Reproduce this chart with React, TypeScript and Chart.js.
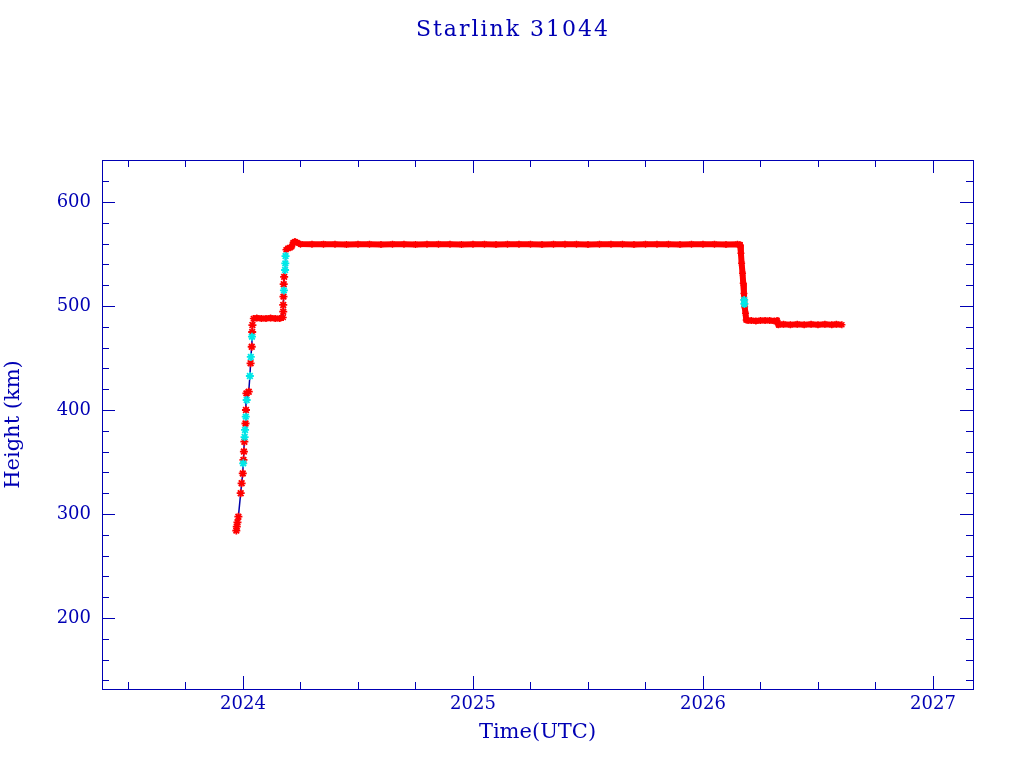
import { useEffect, useRef } from 'react';
import { Chart, registerables } from 'chart.js';

Chart.register(...registerables);

const titleText = 'Starlink 31044';
const xAxisTitle = 'Time(UTC)';
const yAxisTitle = 'Height (km)';
const xTickValues = [2024, 2025, 2026, 2027];
const yTickValues = [200, 300, 400, 500, 600];
const xRange = [2023.387, 2027.174];
const yRange = [131.7, 640.4];

// ascent markers (red)
const ascentRedTimes = [2023.971, 2023.973, 2023.976, 2023.980, 2023.990, 2023.994, 2023.999, 2024.002, 2024.004, 2024.006, 2024.011, 2024.013, 2024.015, 2024.025, 2024.033, 2024.038, 2024.040, 2024.041];
const ascentRedHeights = [284, 287.8, 292, 297.4, 320, 329.5, 339, 352, 360, 369.5, 387, 400, 416, 417.6, 444.9, 460.8, 475, 481.7];
// ascent markers (cyan)
const ascentCyanTimes = [2024.001, 2024.007, 2024.009, 2024.012, 2024.016, 2024.030, 2024.034, 2024.039];
const ascentCyanHeights = [348.7, 374, 380.8, 393.6, 409.6, 432.7, 451, 470.5];

// second ascent (red / cyan)
const raiseRedTimes = [2024.175, 2024.175, 2024.176, 2024.177, 2024.179];
const raiseRedHeights = [494.5, 501, 509, 521, 528];
const raiseCyanTimes = [2024.178, 2024.183, 2024.184, 2024.185];
const raiseCyanHeights = [515, 534.6, 541, 548];

// first shelf
const shelfTimes = [2024.045, 2024.06, 2024.08, 2024.10, 2024.12, 2024.14, 2024.16, 2024.175];
const shelfHeights = [488, 488.5, 488, 488, 488.5, 488, 488, 489];

// operational altitude, descent and final shelf
const cruiseTimes = [2024.187, 2024.195, 2024.205, 2024.212, 2024.218, 2024.226, 2024.235, 2024.25, 2024.30, 2024.35, 2024.40, 2024.45, 2024.50, 2024.55, 2024.60, 2024.65, 2024.70, 2024.75, 2024.80, 2024.85, 2024.90, 2024.95, 2025.00, 2025.05, 2025.10, 2025.15, 2025.20, 2025.25, 2025.30, 2025.35, 2025.40, 2025.45, 2025.50, 2025.55, 2025.60, 2025.65, 2025.70, 2025.75, 2025.80, 2025.85, 2025.90, 2025.95, 2026.00, 2026.05, 2026.10, 2026.15, 2026.161, 2026.165, 2026.168, 2026.172, 2026.175, 2026.178, 2026.181, 2026.185, 2026.188, 2026.196, 2026.21, 2026.23, 2026.25, 2026.27, 2026.29, 2026.31, 2026.322, 2026.328, 2026.35, 2026.38, 2026.41, 2026.44, 2026.47, 2026.50, 2026.53, 2026.56, 2026.58, 2026.604];
const cruiseHeights = [554, 555.5, 556, 557, 561, 562, 561, 559.5, 559.3, 559.5, 559.3, 559.2, 559.4, 559.3, 559.2, 559.4, 559.3, 559.2, 559.3, 559.4, 559.3, 559.2, 559.3, 559.4, 559.2, 559.3, 559.4, 559.3, 559.2, 559.3, 559.4, 559.3, 559.2, 559.3, 559.4, 559.3, 559.2, 559.3, 559.4, 559.3, 559.2, 559.3, 559.4, 559.3, 559.2, 559.3, 559, 550.7, 541, 531.4, 521.8, 512, 499.3, 493, 486.5, 486, 486, 485.5, 486, 486, 486, 485.5, 486, 482, 482.5, 482, 482.5, 482, 482.5, 482, 482.5, 482, 482.5, 482];
const descentCyanTimes = [2026.179, 2026.180];
const descentCyanHeights = [505.8, 502];

const ink = '#0000b4';
const lineBlue = '#0000aa';
const red = '#ff0000';
const cyan = '#00e8e8';
const serif = '"DejaVu Serif", "Liberation Serif", serif';

const pts = (xs: number[], ys: number[]) => xs.map((x, i) => ({ x, y: ys[i] }));

const framePlugin = {
  id: 'frame',
  afterDatasetsDraw(chart: any) {
    const { ctx, chartArea: a, scales } = chart;
    const xs = scales.x;
    const ys = scales.y;
    ctx.save();
    ctx.strokeStyle = ink;
    ctx.lineWidth = 1;
    ctx.strokeRect(a.left + 0.5, a.top + 0.5, a.right - a.left, a.bottom - a.top);
    ctx.beginPath();
    const start = Math.ceil(xRange[0] / 0.25) * 0.25;
    for (let v = start; v <= xRange[1] + 1e-9; v += 0.25) {
      const major = Math.abs(v - Math.round(v)) < 1e-6;
      const len = major ? 13 : 7;
      const p = Math.round(xs.getPixelForValue(v)) + 0.5;
      ctx.moveTo(p, a.bottom);
      ctx.lineTo(p, a.bottom - len);
      ctx.moveTo(p, a.top);
      ctx.lineTo(p, a.top + len);
    }
    const ystart = Math.ceil(yRange[0] / 20) * 20;
    for (let v = ystart; v <= yRange[1] + 1e-9; v += 20) {
      const major = v % 100 === 0;
      const len = major ? 13 : 7;
      const p = Math.round(ys.getPixelForValue(v)) + 0.5;
      ctx.moveTo(a.left, p);
      ctx.lineTo(a.left + len, p);
      ctx.moveTo(a.right, p);
      ctx.lineTo(a.right - len, p);
    }
    ctx.stroke();
    ctx.fillStyle = ink;
    ctx.font = `22px ${serif}`;
    (ctx as any).letterSpacing = '2px';
    ctx.textAlign = 'center';
    ctx.textBaseline = 'middle';
    ctx.fillText(titleText, 513, 30);
    ctx.restore();
  },
};

export default function App() {
  const ref = useRef<HTMLCanvasElement | null>(null);
  useEffect(() => {
    if (!ref.current) return;
    const blueAll = [
      ...pts(ascentRedTimes, ascentRedHeights),
      ...pts(ascentCyanTimes, ascentCyanHeights),
      ...pts(raiseRedTimes, raiseRedHeights),
      ...pts(raiseCyanTimes, raiseCyanHeights),
      ...pts(shelfTimes, shelfHeights),
      ...pts(cruiseTimes, cruiseHeights),
      ...pts(descentCyanTimes, descentCyanHeights),
    ].sort((a, b) => a.x - b.x);
    const chart = new Chart(ref.current, {
      type: 'scatter',
      data: {
        datasets: [
          { data: blueAll, showLine: true, borderColor: lineBlue, borderWidth: 1.5, pointRadius: 0, order: 5 },
          { data: pts(shelfTimes, shelfHeights), showLine: true, borderColor: red, borderWidth: 6, pointStyle: 'star', pointRadius: 3.5, borderCapStyle: 'butt', pointBorderColor: red, pointBackgroundColor: red, pointBorderWidth: 1.5, order: 3 },
          { data: pts(cruiseTimes, cruiseHeights), showLine: true, borderColor: red, borderWidth: 6, pointStyle: 'star', pointRadius: 3.5, pointBorderColor: red, pointBackgroundColor: red, pointBorderWidth: 1.5, order: 3 },
          { data: [...pts(ascentRedTimes, ascentRedHeights), ...pts(raiseRedTimes, raiseRedHeights)], showLine: false, pointStyle: 'star', pointRadius: 4, borderColor: red, backgroundColor: red, borderWidth: 1.8, order: 2 },
          { data: [...pts(ascentCyanTimes, ascentCyanHeights), ...pts(raiseCyanTimes, raiseCyanHeights), ...pts(descentCyanTimes, descentCyanHeights)], showLine: false, pointStyle: 'star', pointRadius: 4, borderColor: cyan, backgroundColor: cyan, borderWidth: 1.8, order: 1 },
        ],
      },
      options: {
        animation: false,
        responsive: false,
        devicePixelRatio: 1,
        layout: { padding: { left: 0, right: 51, top: 160, bottom: 0 } },
        plugins: { legend: { display: false }, tooltip: { enabled: false } },
        scales: {
          x: {
            type: 'linear',
            min: xRange[0],
            max: xRange[1],
            position: 'bottom',
            afterBuildTicks: (s: any) => { s.ticks = xTickValues.map((v) => ({ value: v })); },
            afterFit: (s: any) => { s.height = 79; },
            grid: { display: false, drawTicks: false },
            border: { display: false },
            ticks: { color: ink, font: { family: serif, size: 18 }, padding: 5, maxRotation: 0, autoSkip: false, callback: (v: any) => String(v) },
            title: { display: true, text: xAxisTitle, color: ink, font: { family: serif, size: 21 }, padding: { top: 0, bottom: 23 } },
          },
          y: {
            type: 'linear',
            min: yRange[0],
            max: yRange[1],
            position: 'left',
            afterBuildTicks: (s: any) => { s.ticks = yTickValues.map((v) => ({ value: v })); },
            afterFit: (s: any) => { s.width = 102; },
            grid: { display: false, drawTicks: false },
            border: { display: false },
            ticks: { color: ink, font: { family: serif, size: 18 }, padding: 11, autoSkip: false, callback: (v: any) => String(v) },
            title: { display: true, text: yAxisTitle, color: ink, font: { family: serif, size: 21 }, padding: { top: 1, bottom: 0 } },
          },
        },
      },
      plugins: [framePlugin],
    } as any);
    return () => chart.destroy();
  }, []);
  return (
    <div style={{ position: 'absolute', left: 0, top: 0, width: 1024, height: 768, background: '#fff' }}>
      <canvas ref={ref} width={1024} height={768} style={{ width: 1024, height: 768 }} />
    </div>
  );
}
